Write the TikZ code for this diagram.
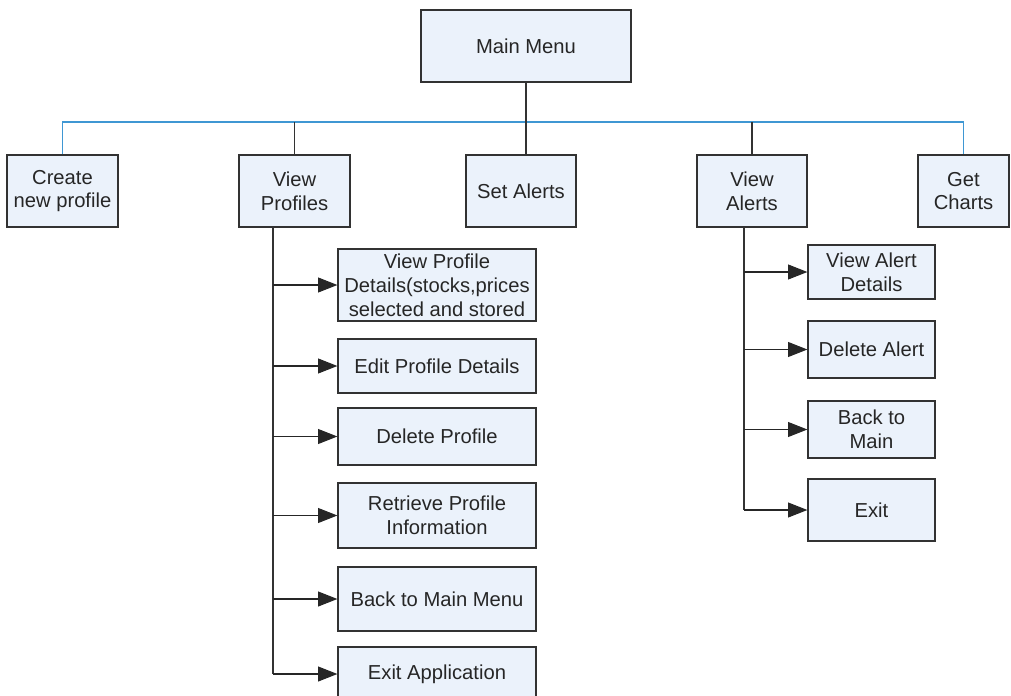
\documentclass[tikz,border=0pt]{standalone}
\usepackage{fontspec}
\setmainfont{Liberation Sans}
\usepackage{tikz}
\usetikzlibrary{arrows.meta}
\definecolor{boxfill}{RGB}{235,242,251}
\definecolor{boxline}{RGB}{50,50,50}
\definecolor{busblue}{RGB}{63,151,211}

\begin{document}
\begin{tikzpicture}[
    x=0.02cm, y=-0.02cm,
    menubox/.style={draw=boxline, fill=boxfill, line width=0.7pt, inner sep=1pt, align=center, text=black!85, font=\fontsize{11.5}{13.6}\selectfont},
    link/.style={line width=0.6pt, draw=black!80},
    busline/.style={line width=0.6pt, draw=busblue},
    arrow/.style={-{Triangle[length=11pt,width=8.5pt]}, line width=0.6pt, draw=black!85}
]
    \useasboundingbox (0,0) rectangle (1011,696);

    % top level
    \node[menubox, minimum width=4.2cm, minimum height=1.44cm] (main) at (526,46) {Main Menu};
    \node[menubox, minimum width=2.22cm, minimum height=1.44cm] (create) at (62.5,191) {Create\\new profile};
    \node[menubox, minimum width=2.22cm, minimum height=1.44cm] (vprof) at (294.5,191) {View\\Profiles};
    \node[menubox, minimum width=2.2cm, minimum height=1.44cm] (setal) at (521,191) {Set Alerts};
    \node[menubox, minimum width=2.2cm, minimum height=1.44cm] (valert) at (752,191) {View\\Alerts};
    \node[menubox, minimum width=1.82cm, minimum height=1.44cm] (charts) at (963.5,191) {Get\\Charts};

    % profile branch
    \node[menubox, minimum width=3.96cm, minimum height=1.44cm] (p1) at (437,285) {View Profile\\Details(stocks,prices\\selected and stored};
    \node[menubox, minimum width=3.96cm, minimum height=1.08cm] (p2) at (437,366) {Edit Profile Details};
    \node[menubox, minimum width=3.96cm, minimum height=1.14cm] (p3) at (437,436.5) {Delete Profile};
    \node[menubox, minimum width=3.96cm, minimum height=1.3cm] (p4) at (437,515.5) {Retrieve Profile\\Information};
    \node[menubox, minimum width=3.96cm, minimum height=1.28cm] (p5) at (437,599) {Back to Main Menu};
    \node[menubox, minimum width=3.96cm, minimum height=1.08cm] (p6) at (437,674) {Exit Application};

    % alert branch
    \node[menubox, minimum width=2.54cm, minimum height=1.08cm] (a1) at (871.5,272) {View Alert\\Details};
    \node[menubox, minimum width=2.54cm, minimum height=1.14cm] (a2) at (871.5,349.5) {Delete Alert};
    \node[menubox, minimum width=2.54cm, minimum height=1.14cm] (a3) at (871.5,429.5) {Back to\\Main};
    \node[menubox, minimum width=2.54cm, minimum height=1.24cm] (a4) at (871.5,510) {Exit};

    \coordinate (bus) at (0,122);
    \coordinate (ptrunk) at (273,227);
    \coordinate (atrunk) at (744,227);

    \draw[busline] (create.north) -- (create.north |- bus) -- (charts.north |- bus) -- (charts.north);
    \draw[link] (main.south) -- (main.south |- setal.north);
    \draw[link] (vprof.north |- bus) -- (vprof.north);
    \draw[link] (valert.north |- bus) -- (valert.north);

    \draw[link] (ptrunk) -- (ptrunk |- p6.west);
    \foreach \s in {p1,p2,p3,p4,p5,p6}
        \draw[arrow] (ptrunk |- \s.west) -- (\s.west);

    \draw[link] (atrunk) -- (atrunk |- a4.west);
    \foreach \s in {a1,a2,a3,a4}
        \draw[arrow] (atrunk |- \s.west) -- (\s.west);
\end{tikzpicture}
\end{document}
